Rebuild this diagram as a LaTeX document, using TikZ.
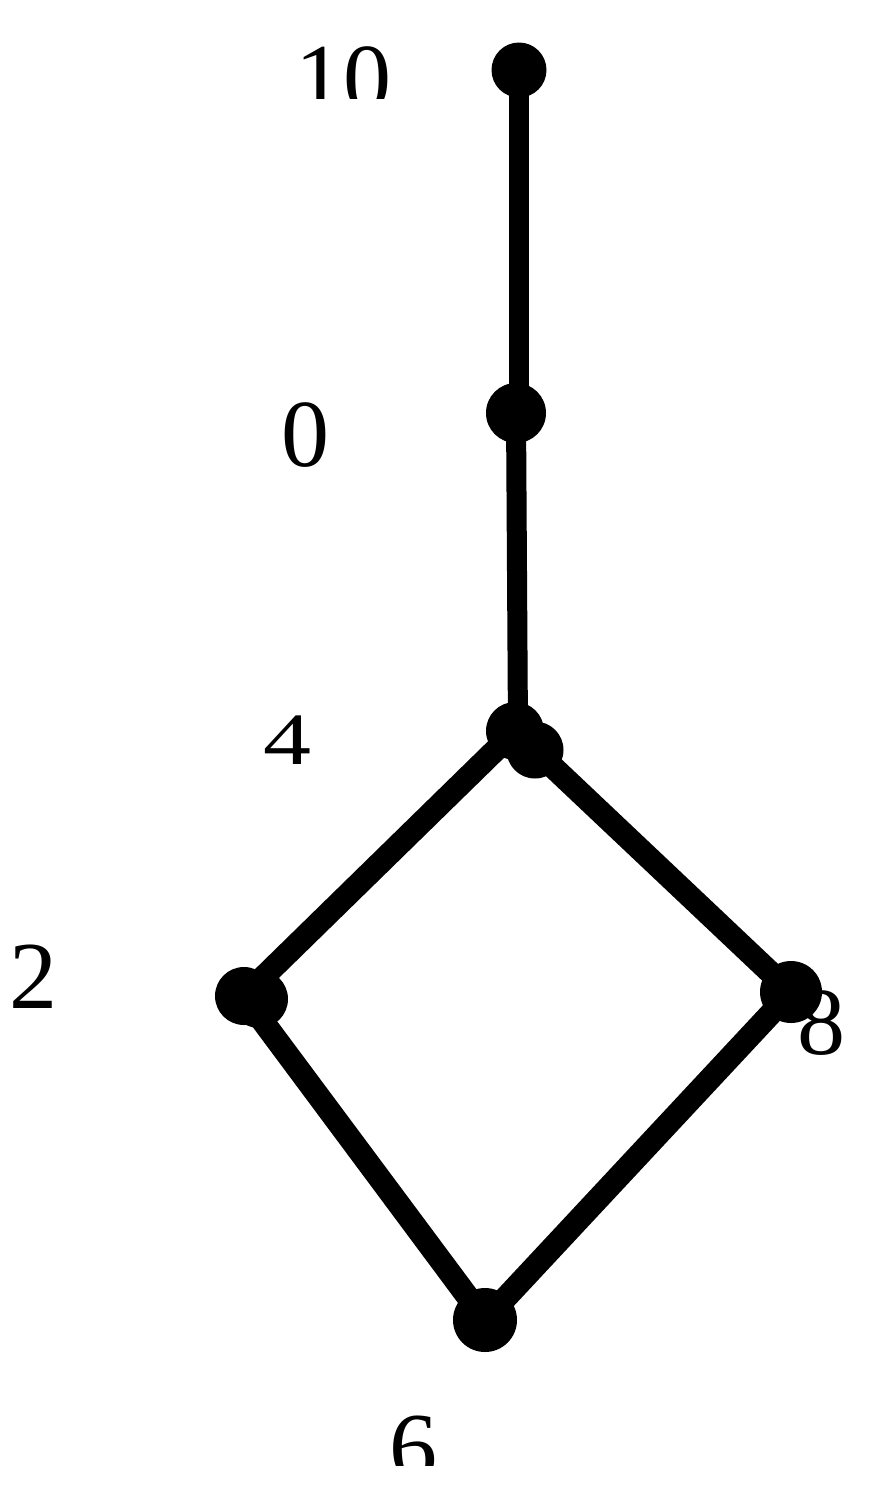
\documentclass[tikz,border=0pt]{standalone}
\usepackage{fontspec}
\setmainfont{Liberation Serif}
\begin{document}
\begin{tikzpicture}[x=1pt,y=-1pt,
  dot/.style={circle,fill=black,inner sep=0pt,minimum size=#1},
  dot/.default=57pt,
  edge/.style={line width=20pt,black},
  diag/.style={line width=23pt,black},
  lbl/.style={inner sep=0pt,anchor=base,font=\fontsize{96}{96}\selectfont}]
\useasboundingbox (0,0) rectangle (870,1510);
% dot positions
\coordinate (c10) at (519,70);
\coordinate (c0) at (516,413);
\coordinate (c0top) at (519,413);
\coordinate (c4top) at (518,731);
\coordinate (c4a) at (515,731);
\coordinate (c4b) at (535,750);
\coordinate (c2a) at (244,996);
\coordinate (c2b) at (259,999);
\coordinate (c8) at (791,992);
\coordinate (c6) at (485,1320);
% edges (behind dots)
\draw[edge] (c10) -- (c0top);
\draw[edge] (c0) -- (c4top);
\draw[diag] (c4a) -- (c2a);
\draw[diag] (c4b) -- (c8);
\draw[diag] (c2a) -- (c6);
\draw[diag] (c8) -- (c6);
% dots
\node[dot=55pt] (n10) at (c10) {};
\node[dot=60pt] (n0) at (c0) {};
\node[dot=58pt] (n4a) at (c4a) {};
\node[dot=57pt] (n4b) at (c4b) {};
\node[dot=58pt] (n2a) at (c2a) {};
\node[dot=58pt] (n2b) at (c2b) {};
\node[dot=62pt] (n8) at (c8) {};
\node[dot=64pt] (n6) at (c6) {};
% labels
\begin{scope}
\clip (0,0) rectangle (870,98);
\node[lbl] (l10) at (343,110) {10};
\end{scope}
\node[lbl] (l0) at (305.5,466) {0};
\node[lbl,yscale=0.77] (l4) at (287.8,764) {4};
\node[lbl] (l2) at (33.3,1008) {2};
\node[lbl] (l8) at (821.5,1054) {8};
\begin{scope}
\clip (0,1300) rectangle (870,1465);
\node[lbl] (l6) at (413,1479) {6};
\end{scope}
\end{tikzpicture}
\end{document}
